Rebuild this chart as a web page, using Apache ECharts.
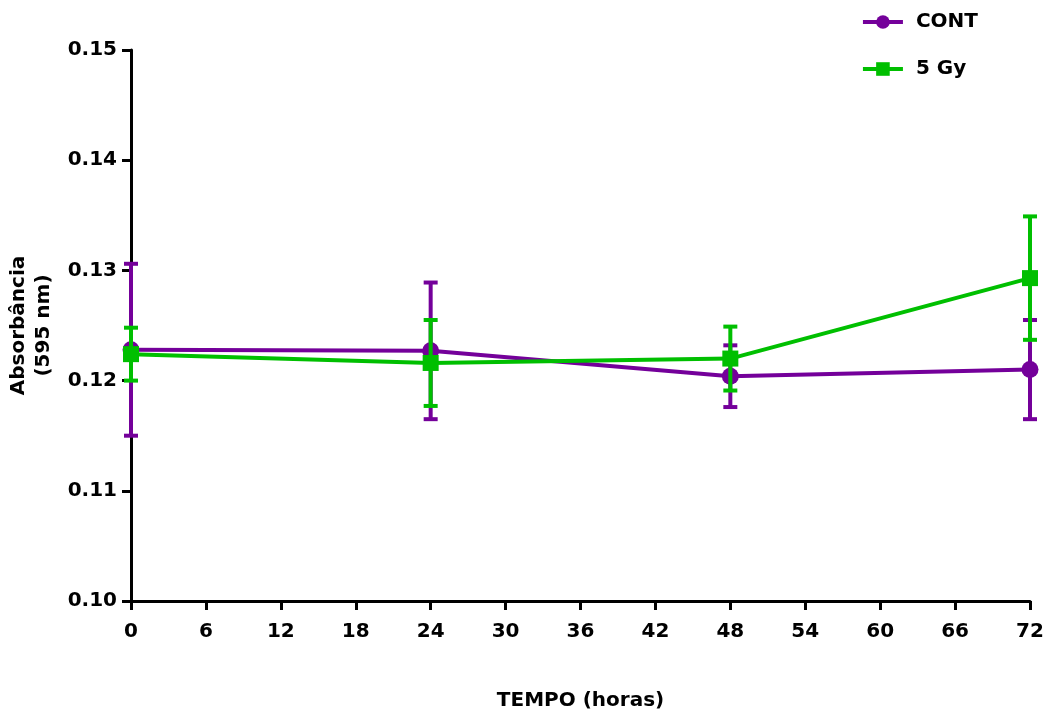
<!DOCTYPE html>
<html>
<head>
<meta charset="utf-8">
<script src="https://cdn.jsdelivr.net/npm/echarts@6/dist/echarts.min.js"></script>
<style>
html,body{margin:0;padding:0;background:#fff;}
#chart{width:1045px;height:713px;}
</style>
</head>
<body>
<div id="chart"></div>
<script>
var hours = [0, 24, 48, 72];
var contMean = [0.1228, 0.1227, 0.1204, 0.1210];
var contErr = [0.0078, 0.0062, 0.0028, 0.0045];
var gyMean = [0.1224, 0.1216, 0.1220, 0.1293];
var gyErr = [0.0024, 0.0039, 0.0029, 0.0056];
var xTicks = [0, 6, 12, 18, 24, 30, 36, 42, 48, 54, 60, 66, 72];
var yTicks = [0.10, 0.11, 0.12, 0.13, 0.14, 0.15];

var purple = '#74009a';
var green = '#00bf00';
var font = 'DejaVu Sans';

function errData(mean, err){
    return hours.map(function(h, i){ return [h, mean[i] - err[i], mean[i] + err[i]]; });
}
function errSeries(mean, err, color, z){
    return {
        type: 'custom',
        z: z,
        silent: true,
        data: errData(mean, err),
        renderItem: function(params, api){
            var lo = api.coord([api.value(0), api.value(1)]);
            var hi = api.coord([api.value(0), api.value(2)]);
            var w = 7;
            var st = {stroke: color, lineWidth: 4};
            return {
                type: 'group',
                children: [
                    {type: 'line', shape: {x1: lo[0], y1: lo[1], x2: hi[0], y2: hi[1]}, style: st},
                    {type: 'line', shape: {x1: lo[0] - w, y1: lo[1], x2: lo[0] + w, y2: lo[1]}, style: st},
                    {type: 'line', shape: {x1: hi[0] - w, y1: hi[1], x2: hi[0] + w, y2: hi[1]}, style: st}
                ]
            };
        }
    };
}

var chart = echarts.init(document.getElementById('chart'));
var option = {
    animation: false,
    textStyle: {fontFamily: font},
    grid: {left: 131, right: 15, top: 50, bottom: 112, outerBoundsMode: 'none', containLabel: false},
    legend: {
        orient: 'vertical',
        right: 62,
        top: 7,
        itemGap: 27,
        itemWidth: 40,
        itemHeight: 17,
        lineStyle: {width: 4},
        textStyle: {fontFamily: font, fontWeight: 'bold', fontSize: 20, color: '#000', padding: [0, 0, 0, 8]},
        data: ['CONT', '5 Gy']
    },
    xAxis: {
        type: 'value',
        min: 0,
        max: 72,
        interval: 6,
        name: 'TEMPO (horas)',
        nameLocation: 'middle',
        nameGap: 90,
        nameTextStyle: {fontFamily: font, fontWeight: 'bold', fontSize: 20, color: '#000'},
        axisLine: {onZero: false, lineStyle: {color: '#000', width: 3}},
        axisTick: {length: 9, lineStyle: {color: '#000', width: 3}},
        axisLabel: {
            fontFamily: font, fontWeight: 'bold', fontSize: 20, color: '#000', margin: 21,
            formatter: function(v){ return xTicks.indexOf(v) >= 0 ? String(v) : ''; }
        },
        splitLine: {show: false}
    },
    yAxis: {
        type: 'value',
        min: 0.10,
        max: 0.15,
        interval: 0.01,
        name: 'Absorbância\n(595 nm)',
        nameLocation: 'middle',
        nameGap: 75,
        nameRotate: 90,
        nameTextStyle: {fontFamily: font, fontWeight: 'bold', fontSize: 20, color: '#000', lineHeight: 25},
        axisLine: {show: true, lineStyle: {color: '#000', width: 3}},
        axisTick: {show: true, length: 9, lineStyle: {color: '#000', width: 3}},
        axisLabel: {
            fontFamily: font, fontWeight: 'bold', fontSize: 20, color: '#000', margin: 14,
            formatter: function(v){ return v.toFixed(2); }
        },
        splitLine: {show: false}
    },
    series: [
        errSeries(contMean, contErr, purple, 1),
        {
            name: 'CONT',
            type: 'line',
            z: 2,
            data: hours.map(function(h, i){ return [h, contMean[i]]; }),
            symbol: 'circle',
            symbolSize: 17,
            itemStyle: {color: purple},
            lineStyle: {color: purple, width: 4}
        },
        errSeries(gyMean, gyErr, green, 3),
        {
            name: '5 Gy',
            type: 'line',
            z: 4,
            data: hours.map(function(h, i){ return [h, gyMean[i]]; }),
            symbol: 'rect',
            symbolSize: 16,
            itemStyle: {color: green},
            lineStyle: {color: green, width: 4}
        }
    ]
};
chart.setOption(option);
</script>
</body>
</html>
